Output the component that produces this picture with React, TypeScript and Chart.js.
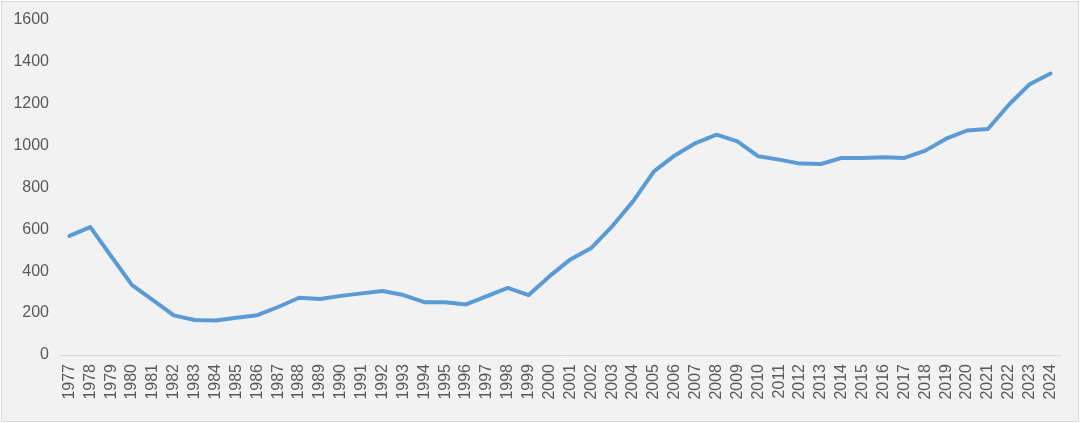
import React, { useEffect, useRef } from "react";
import { Chart, registerables } from "chart.js";

Chart.register(...registerables);

const years: string[] = [
  "1977","1978","1979","1980","1981","1982","1983","1984","1985","1986",
  "1987","1988","1989","1990","1991","1992","1993","1994","1995","1996",
  "1997","1998","1999","2000","2001","2002","2003","2004","2005","2006",
  "2007","2008","2009","2010","2011","2012","2013","2014","2015","2016",
  "2017","2018","2019","2020","2021","2022","2023","2024",
];

const values: number[] = [
  568, 610, 471, 333, 262, 189, 167, 165, 178, 190,
  229, 273, 267, 282, 294, 305, 286, 252, 252, 241,
  281, 320, 286, 376, 456, 511, 614, 733, 876, 952,
  1011, 1051, 1019, 948, 932, 913, 911, 940, 940, 943,
  940, 975, 1032, 1071, 1078, 1194, 1292, 1343,
];

const yTicks: number[] = [0, 200, 400, 600, 800, 1000, 1200, 1400, 1600];

export default function App() {
  const ref = useRef<HTMLCanvasElement | null>(null);

  useEffect(() => {
    document.body.style.margin = "0";
    if (!ref.current) return;
    const chart = new Chart(ref.current, {
      type: "line",
      data: {
        labels: years,
        datasets: [
          {
            data: values,
            borderColor: "#5b9bd5",
            borderWidth: 4,
            pointRadius: 0,
            tension: 0,
            fill: false,
            borderCapStyle: "round",
            borderJoinStyle: "round",
          },
        ],
      },
      options: {
        animation: false,
        responsive: false,
        maintainAspectRatio: false,
        layout: { padding: { left: 0, right: 19, top: 17, bottom: 0 } },
        plugins: {
          legend: { display: false },
          tooltip: { enabled: false },
        },
        scales: {
          x: {
            offset: true,
            grid: { display: false, drawTicks: false },
            border: { display: true, color: "#d9d9d9", width: 1 },
            ticks: {
              autoSkip: false,
              minRotation: 90,
              maxRotation: 90,
              padding: 9,
              color: "#595959",
              font: { family: "'Liberation Sans', Arial, sans-serif", size: 16 },
            },
            afterFit: (s: any) => {
              s.height = 68;
            },
          },
          y: {
            min: 0,
            max: 1600,
            afterBuildTicks: (s: any) => {
              s.ticks = yTicks.map((v) => ({ value: v }));
            },
            grid: { display: false, drawTicks: false },
            border: { display: false },
            ticks: {
              padding: 10,
              color: "#595959",
              font: { family: "'Liberation Sans', Arial, sans-serif", size: 16 },
              callback: (v: any) => String(v),
            },
            afterFit: (s: any) => {
              s.width = 59;
            },
          },
        },
      },
    });
    return () => chart.destroy();
  }, []);

  return (
    <div style={{ position: "relative", width: 1080, height: 423, background: "#ffffff" }}>
      <div
        style={{
          position: "absolute",
          left: 1,
          top: 1,
          width: 1076,
          height: 419,
          border: "1px solid #d9d9d9",
          background: "#f2f2f2",
        }}
      />
      <canvas
        ref={ref}
        width={1080}
        height={423}
        style={{ position: "absolute", left: 0, top: 0, width: 1080, height: 423 }}
      />
    </div>
  );
}
